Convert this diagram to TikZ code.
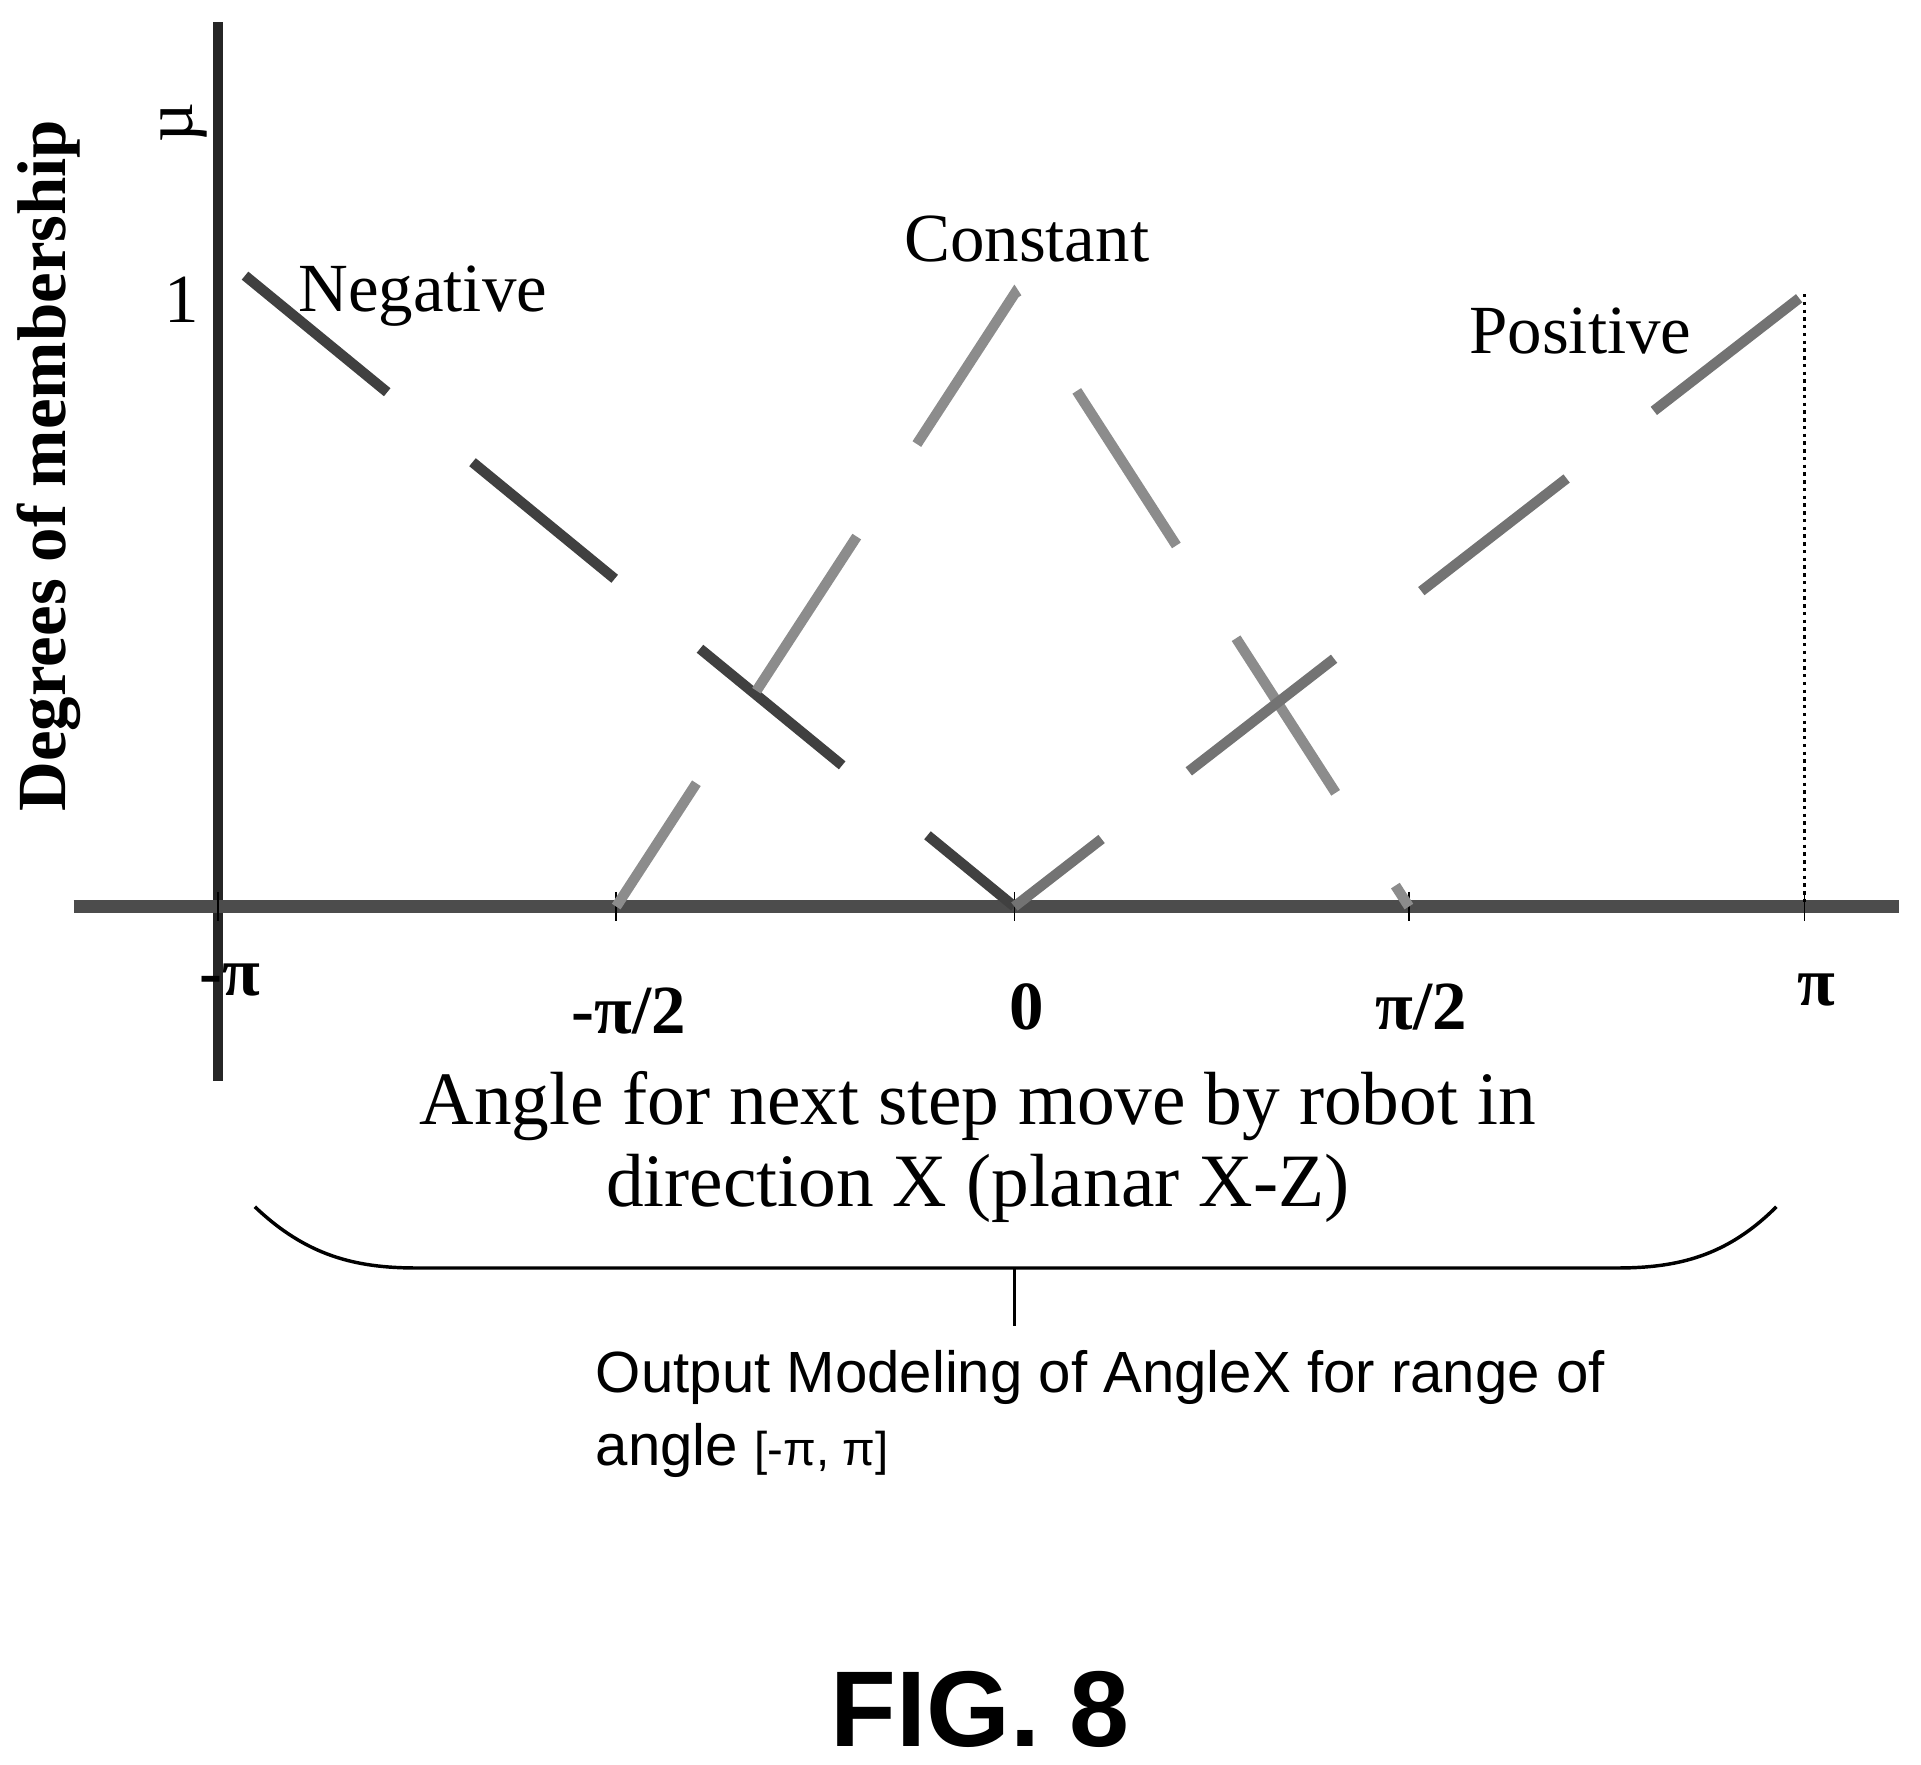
\documentclass[tikz,border=0pt]{standalone}
\usepackage{fontspec}
\setmainfont{Liberation Serif}
\setsansfont{Liberation Sans}
\begin{document}
\begin{tikzpicture}[x=0.01cm, y=-0.01cm,
    lbl/.style={font=\fontsize{16}{19}\selectfont},
    tick/.style={font=\fontsize{16}{19}\selectfont\bfseries},
    mf/.style={line width=2.4pt, dash pattern=on 1.5cm off 0.9cm}]
    \useasboundingbox (0,0) rectangle (1568,1440);

    % Axes
    \coordinate (ytop) at (178,18);
    \coordinate (ybot) at (178,882);
    \coordinate (xl) at (60,740);
    \coordinate (xr) at (1550,740);
    \draw[line width=2.4pt, black!85] (ytop) -- (ybot);
    \draw[line width=3pt, black!70] (xl) -- (xr);

    % Ticks and labels
    \foreach \x/\name/\label/\dy in {178/mpi/{-π}/60, 503/mhalf/{-π/2}/85, 828/zero/{0}/82, 1150/phalf/{π/2}/82, 1473/ppi/{π}/68}
    {
      \coordinate (\name) at (\x,740);
      \draw (\x,728) -- (\x,752);
      \node[tick] at (\x+10,740+\dy) {\label};
    }
    \coordinate (one) at (178,240);

    % Membership functions
    \coordinate (neg0) at (200,225);
    \coordinate (cpeak) at (828,240);
    \coordinate (ppeak) at (1473,240);
    \draw[mf, black!75] (neg0) -- (zero);
    \draw[mf, black!45, dash phase=0.3cm] (mhalf) -- (cpeak) -- (phalf);
    \draw[mf, black!55, dash phase=0.6cm] (zero) -- (ppeak);
    \draw[densely dotted, thick] (ppeak) -- (ppi);

    % Labels
    \node[lbl] (mu) at (150,100) [rotate=90] {µ};
    \node[lbl] (lone) at (148,245) {1};
    \node[lbl] (neg) at (345,242) {Negative};
    \node[lbl] (con) at (838,195) {Constant};
    \node[lbl] (pos) at (1290,270) {Positive};
    \node[tick, rotate=90] (ylab) at (40,380) {Degrees of membership};
    \node[font=\fontsize{17.5}{21}\selectfont, align=center] (xlab) at (798,936) {Angle for next step move by robot in\\[-2pt] direction X (planar X-Z)};

    % Brace
    \coordinate (bl) at (208,985);
    \coordinate (br) at (1450,985);
    \coordinate (bstem) at (828,1035);
    \coordinate (bend) at (828,1082);
    \draw[thick] (bl) .. controls (250,1025) and (290,1035) .. (340,1035) -- (1320,1035) .. controls (1370,1035) and (1410,1025) .. (br);
    \draw[thick] (bstem) -- (bend);
    \node[font=\sffamily\fontsize{13.5}{17}\selectfont, anchor=north west, align=left] (out) at (474,1090)
      {Output Modeling of AngleX for range of\\ angle {\fontsize{11}{14}\selectfont [-π, π]}};

    \node[font=\sffamily\bfseries\fontsize{25}{30}\selectfont] (fig) at (800,1395) {FIG. 8};
\end{tikzpicture}
\end{document}
